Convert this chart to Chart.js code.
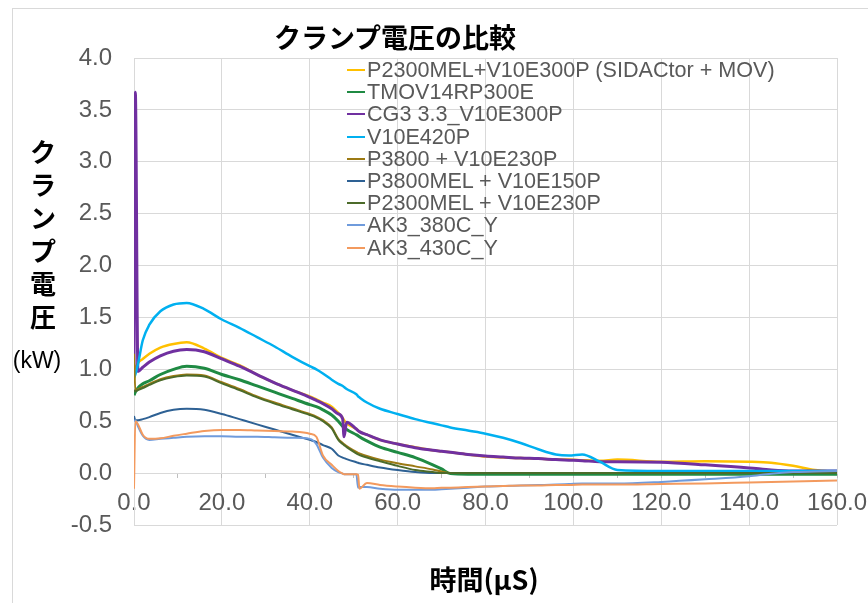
<!DOCTYPE html>
<html>
<head>
<meta charset="utf-8">
<script src="https://cdn.jsdelivr.net/npm/chart.js@4.4.1/dist/chart.umd.min.js"></script>
<style>
  html, body { margin: 0; padding: 0; background: #fff; }
  #wrap { position: relative; width: 868px; height: 603px; overflow: hidden; }
  #frame { position: absolute; left: 12px; top: 8px; width: 900px; height: 700px; border: 1px solid #d9d9d9; box-sizing: border-box; }
  #chart { position: absolute; left: 0; top: 0; }
  .jp { position: absolute; font-family: "Noto Sans CJK JP", sans-serif; font-weight: 700; color: #000; white-space: nowrap; }
  #title { left: 395px; top: 20px; font-size: 27px; line-height: 34px; transform: translateX(-50%); }
  #ytitle { left: 28px; top: 134px; width: 30px; font-size: 26px; line-height: 33px; text-align: center; white-space: normal; }
  #unit { position: absolute; left: 37px; top: 347px; transform: translateX(-50%); font-family: "Liberation Sans", Arial, sans-serif; font-size: 23px; color: #000; }
  #xtitle { left: 484px; top: 562px; font-size: 27px; line-height: 34px; transform: translateX(-50%); }
  #legend { position: absolute; left: 347px; top: 59px; font-family: "Liberation Sans", Arial, sans-serif; font-size: 21.6px; color: #595959; }
  #legend .row { height: 22.2px; line-height: 22.2px; white-space: nowrap; display: flex; align-items: center; }
  #legend .swatch { display: inline-block; width: 18px; height: 2px; margin-right: 2px; }
</style>
</head>
<body>
<div id="wrap">
  <div id="frame"></div>
  <canvas id="chart" width="868" height="603"></canvas>
  <div id="title" class="jp">クランプ電圧の比較</div>
  <div id="ytitle" class="jp">ク<br>ラ<br>ン<br>プ<br>電<br>圧</div>
  <div id="unit">(kW)</div>
  <div id="xtitle" class="jp">時間(μS)</div>
  <div id="legend"></div>
</div>
<script>
// time axis (µS), shared by every series
const times = [0, 0.3, 0.9, 2, 3.5, 6, 9, 12, 16, 20, 24, 28, 32, 36, 40, 41.5, 43, 45, 46.5, 47.5,
  47.8, 48.4, 50.6, 51, 51.3, 53, 56, 60, 64, 68, 70, 72, 76, 80, 84, 88, 92, 96, 99, 102,
  106, 110, 120, 130, 140, 145, 150, 155, 160];

const seriesNames = ['P2300MEL+V10E300P (SIDACtor + MOV)', 'TMOV14RP300E', 'CG3 3.3_V10E300P', 'V10E420P',
  'P3800 + V10E230P', 'P3800MEL + V10E150P', 'P2300MEL + V10E230P', 'AK3_380C_Y', 'AK3_430C_Y'];

const sidactorMov = [0.90, 1.00, 1.06, 1.10, 1.15, 1.21, 1.245, 1.26, 1.20, 1.11, 1.04, 0.95, 0.87, 0.80, 0.74, 0.71, 0.68, 0.64, 0.58, 0.53,
  0.51, 0.48, 0.425, 0.41, 0.40, 0.37, 0.32, 0.28, 0.25, 0.22, 0.21, 0.20, 0.18, 0.16, 0.15, 0.145, 0.14, 0.13, 0.13, 0.125,
  0.12, 0.13, 0.11, 0.115, 0.11, 0.10, 0.07, 0.03, 0.01];
const tmov14 = [0.75, 0.78, 0.82, 0.86, 0.89, 0.95, 1.00, 1.03, 1.01, 0.95, 0.90, 0.84, 0.78, 0.72, 0.66, 0.64, 0.61, 0.56, 0.50, 0.45,
  0.44, 0.42, 0.37, 0.36, 0.35, 0.31, 0.25, 0.20, 0.15, 0.08, 0.04, -0.005, -0.01, -0.01, -0.01, -0.01, -0.01, -0.01, -0.01, -0.01,
  -0.01, -0.01, -0.01, -0.01, -0.01, -0.01, -0.01, -0.01, -0.01];
const cg3 = [1.00, 3.67, 0.98, 1.02, 1.07, 1.13, 1.175, 1.19, 1.17, 1.10, 1.03, 0.95, 0.87, 0.80, 0.73, 0.70, 0.67, 0.62, 0.57, 0.52,
  0.35, 0.49, 0.425, 0.41, 0.40, 0.37, 0.32, 0.28, 0.245, 0.22, 0.21, 0.20, 0.18, 0.165, 0.155, 0.145, 0.14, 0.13, 0.125, 0.12,
  0.11, 0.11, 0.105, 0.08, 0.05, 0.03, 0.02, 0.02, 0.02];
const v10e420 = [0.92, 0.95, 1.05, 1.28, 1.43, 1.56, 1.625, 1.64, 1.58, 1.48, 1.40, 1.31, 1.22, 1.12, 1.03, 1.00, 0.96, 0.90, 0.86, 0.84,
  0.83, 0.81, 0.76, 0.74, 0.73, 0.68, 0.62, 0.57, 0.52, 0.48, 0.46, 0.44, 0.41, 0.38, 0.34, 0.29, 0.23, 0.18, 0.17, 0.18,
  0.11, 0.03, 0.02, 0.02, 0.02, 0.02, 0.02, 0.02, 0.02];
const p3800 = [1.15, 0.80, 0.81, 0.83, 0.86, 0.905, 0.935, 0.95, 0.94, 0.875, 0.81, 0.74, 0.68, 0.625, 0.57, 0.545, 0.51, 0.44, 0.33, 0.29,
  0.28, 0.26, 0.205, 0.195, 0.19, 0.165, 0.13, 0.095, 0.065, 0.035, 0.015, 0, 0, 0, 0, 0, 0, 0, 0, 0,
  0, 0, 0, 0, 0, 0, 0, 0, 0];
const p3800mel = [0.55, 0.51, 0.51, 0.52, 0.54, 0.58, 0.61, 0.62, 0.61, 0.57, 0.52, 0.47, 0.42, 0.37, 0.32, 0.30, 0.27, 0.235, 0.17, 0.15,
  0.145, 0.135, 0.105, 0.10, 0.095, 0.08, 0.055, 0.03, 0.01, 0, 0, 0, 0, 0, 0, 0, 0, 0, 0, 0,
  0, 0, 0, 0, 0, 0, 0, 0, 0];
const p2300mel = [0.80, 0.79, 0.80, 0.82, 0.85, 0.895, 0.925, 0.94, 0.93, 0.865, 0.80, 0.73, 0.67, 0.615, 0.56, 0.535, 0.50, 0.43, 0.32, 0.28,
  0.27, 0.25, 0.19, 0.18, 0.175, 0.15, 0.115, 0.07, 0.03, 0.01, 0, 0, 0, 0, 0, 0, 0, 0, 0, 0,
  0, 0, 0, 0, 0, 0, 0, 0, 0];
const ak3_380 = [0.50, 0.51, 0.45, 0.36, 0.32, 0.33, 0.34, 0.35, 0.355, 0.355, 0.35, 0.35, 0.345, 0.34, 0.33, 0.28, 0.15, 0.05, 0.01, -0.005,
  -0.01, -0.01, -0.01, -0.14, -0.135, -0.135, -0.15, -0.16, -0.16, -0.16, -0.155, -0.15, -0.14, -0.13, -0.125, -0.12, -0.115, -0.11, -0.105, -0.10,
  -0.10, -0.10, -0.085, -0.06, -0.03, -0.005, 0.01, 0.015, 0.02];
const ak3_430 = [-0.15, 0.50, 0.47, 0.37, 0.33, 0.335, 0.36, 0.38, 0.405, 0.415, 0.415, 0.41, 0.405, 0.40, 0.38, 0.35, 0.17, 0.08, 0.02, -0.005,
  -0.01, -0.01, -0.01, -0.015, -0.15, -0.095, -0.115, -0.13, -0.14, -0.145, -0.14, -0.14, -0.135, -0.13, -0.125, -0.12, -0.12, -0.115, -0.115, -0.11,
  -0.11, -0.11, -0.105, -0.10, -0.09, -0.085, -0.08, -0.075, -0.07];

const seriesValues = [sidactorMov, tmov14, cg3, v10e420, p3800, p3800mel, p2300mel, ak3_380, ak3_430];
const colors = ['#ffc000', '#1f8a43', '#7030a0', '#00b0f0', '#9c7a14', '#2e6194', '#4c6b2a', '#6f9bdc', '#f39a5e'];
const widths = [2.5, 3, 3, 2.5, 2, 2, 2, 2, 2];

const datasets = seriesValues.map((vals, i) => ({
  label: seriesNames[i],
  data: vals.map((v, k) => ({ x: times[k], y: v })),
  borderColor: colors[i],
  backgroundColor: colors[i],
  borderWidth: widths[i],
  pointRadius: 0,
  fill: false,
  cubicInterpolationMode: 'monotone',
  // later series on top, like the original
  order: seriesValues.length - 1 - i,
}));

const tickFont = { family: 'Liberation Sans', size: 24 };
const gridGray = '#d9d9d9';

new Chart(document.getElementById('chart').getContext('2d'), {
  type: 'line',
  data: { datasets },
  options: {
    responsive: false,
    animation: false,
    layout: { padding: { left: 65, top: 58, right: 31, bottom: 78 } },
    plugins: { legend: { display: false }, tooltip: { enabled: false } },
    elements: { line: { borderJoinStyle: 'round' } },
    scales: {
      x: {
        type: 'linear',
        min: 0,
        max: 160,
        position: { y: 0 },
        ticks: {
          stepSize: 10,
          autoSkip: false,
          maxRotation: 0,
          padding: 12,
          color: '#595959',
          font: tickFont,
          callback: (v) => (v % 20 === 0 ? v.toFixed(1) : ''),
        },
        grid: {
          color: (c) => (c.tick && c.tick.value % 20 === 0 ? gridGray : 'rgba(0,0,0,0)'),
          tickColor: '#bfbfbf',
          tickLength: 4,
        },
        border: { color: gridGray },
        afterFit: (s) => { s.paddingLeft = 0; s.paddingRight = 0; },
      },
      y: {
        min: -0.5,
        max: 4,
        ticks: {
          stepSize: 0.5,
          padding: 22,
          color: '#595959',
          font: tickFont,
          callback: (v) => v.toFixed(1),
        },
        grid: { color: gridGray, drawTicks: false },
        border: { color: gridGray },
        afterFit: (s) => { s.width = 69; },
      },
    },
  },
});

// legend drawn over the plot, top right
const legend = document.getElementById('legend');
seriesNames.forEach((name, i) => {
  const row = document.createElement('div');
  row.className = 'row';
  const sw = document.createElement('span');
  sw.className = 'swatch';
  sw.style.background = colors[i];
  row.appendChild(sw);
  row.appendChild(document.createTextNode(name));
  legend.appendChild(row);
});
</script>
</body>
</html>
